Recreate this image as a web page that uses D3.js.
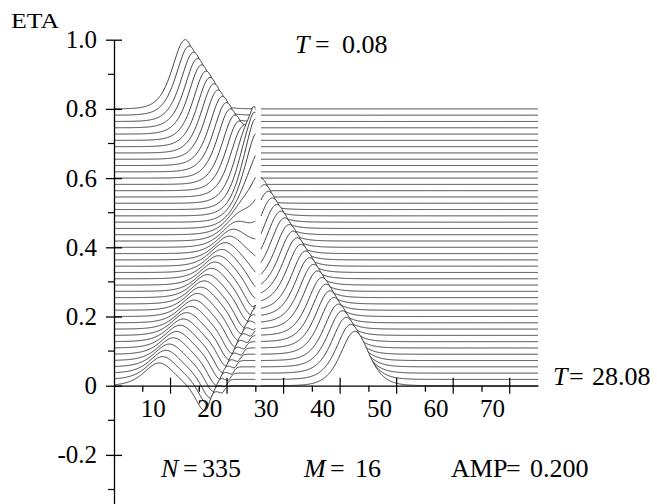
<!DOCTYPE html>
<html lang="en">
<head>
<meta charset="UTF-8">
<title>ETA profiles</title>
<script src="https://d3js.org/d3.v7.min.js"></script>
<style>
  body { margin: 0; background: #fff; }
  svg { display: block; background: #fff; }
</style>
</head>
<body>
<svg width="657" height="504"></svg>
<script>
const serif = '"Liberation Serif", "Times New Roman", "DejaVu Serif", serif';

// first and last time shown, run parameters
const timeLabels = ["0.08", "28.08"];
const runLabels = [["N", "335"], ["M", "16"], ["AMP", "0.200"]];
const yMajor = [-0.2, 0, 0.2, 0.4, 0.6, 0.8, 1.0];
const yMinor = [-0.3, -0.1, 0.1, 0.3, 0.5, 0.7, 0.9];
const xLabelled = [10, 20, 30, 40, 50, 60, 70];
const xHalf = [15, 25, 35, 45, 55, 65, 75];

// 45 profiles, top one is T=0.08, bottom one T=28.08
// incident wave (left of the plate), read off the ridge
const incidentAmp = 0.2;
const incCentre = [17.6,18.3,19.1,19.8,20.5,21.3,22.0,22.7,23.4,24.2,24.9,25.6,26.4,27.1,27.8,
  28.6,29.3,30.0,30.7,31.5,32.2,32.9,33.7,34.4,35.1,35.9,36.6,37.3,38.0,
  null,null,null,null,null,null,null,null,null,null,null,null,null,null,null,null,null];
// short-lived run-up against the plate
const runupAmp = [0,0,0,0,0,0,0,0,0,0,0,0,
  0.04,0.085,0.13,0.085,0.05,0.03,0.01,
  0,0,0,0,0,0,0,0,0,0,0,0,0,0,0,0,0,0,0,0,0,0,0,0,0,0];
// reflected crest running back to the left
const refCentre = [null,null,null,null,null,null,null,null,null,null,null,null,null,null,null,
  30.9,30.3,29.7,29.1,28.5,27.8,27.2,26.6,26.0,25.4,24.7,24.1,23.5,22.9,
  22.3,21.6,21.0,20.4,19.8,19.2,18.6,17.9,17.3,16.7,16.1,15.5,14.8,14.2,13.6,13.0];
const refAmp = [0,0,0,0,0,0,0,0,0,0,0,0,0,0,0,
  0.03,0.04,0.05,0.06,0.065,0.068,0.068,0.068,0.068,0.068,0.068,0.067,
  0.067,0.067,0.067,0.067,0.067,0.067,0.067,0.066,0.066,0.066,0.066,0.066,0.066,0.066,0.066,
  0.066,0.066,0.066];
// depression following the reflected crest
const troughCentre = [null,null,null,null,null,null,null,null,null,null,null,null,null,null,null,
  null,null,null,35.2,34.6,34.1,33.5,33.0,32.5,31.9,31.4,30.8,30.3,29.7,29.2,28.7,28.1,27.6,
  27.0,26.5,25.9,25.4,24.9,24.3,23.8,23.2,22.7,22.1,21.6,21.1];
const troughAmp = [0,0,0,0,0,0,0,0,0,0,0,0,0,0,0,0,0,0,
  0.01,0.02,0.03,0.04,0.05,0.055,0.06,0.065,0.068,0.07,0.071,0.072,0.072,0.073,0.073,
  0.073,0.074,0.074,0.074,0.074,0.075,0.075,0.075,0.075,0.075,0.075,0.075];
// small ripple further behind
const rippleCentre = [null,null,null,null,null,null,null,null,null,null,null,null,null,null,null,
  null,null,null,null,null,null,null,null,null,null,null,null,null,null,null,
  32.0,31.4,30.9,30.3,29.7,29.2,28.6,28.0,27.5,26.9,26.3,25.8,25.2,24.6,24.1];
const rippleAmp = [0,0,0,0,0,0,0,0,0,0,0,0,0,0,0,0,0,0,0,0,0,0,0,0,0,0,0,0,0,0,
  0.01,0.015,0.02,0.02,0.02,0.02,0.02,0.02,0.02,0.02,0.02,0.02,0.02,0.02,0.02];
// transmitted wave (right of the plate)
const trCentre = [null,null,null,null,null,null,null,null,null,null,null,null,null,null,null,
  26.5,27.2,28.0,28.7,29.4,30.1,30.9,31.6,32.3,33.0,33.8,34.5,35.2,36.0,36.7,37.4,38.1,38.9,
  39.6,40.3,41.0,41.8,42.5,43.2,43.9,44.7,45.4,46.1,46.9,47.6];
const trAmp = [0,0,0,0,0,0,0,0,0,0,0,0,0,0,0,
  0.04,0.09,0.13,0.16,0.175,0.18,0.182,0.181,0.18,0.179,0.178,0.177,0.176,0.175,0.174,0.173,
  0.172,0.171,0.17,0.169,0.168,0.167,0.166,0.165,0.164,0.163,0.162,0.161,0.159,0.157];

const nCurves = trAmp.length;
const incWidth = 3.0, runupWidth = 1.0, refWidth = 3.5, trWidth = 3.3;
const troughWL = 2.2, troughWR = 1.1, rippleWL = 1.2, rippleWR = 0.6;
const plateLeft = 30, plateRight = 31;

const svg = d3.select("svg");
const x = d3.scaleLinear().domain([5, 80]).range([114, 538]);
const y = d3.scaleLinear().domain([-0.35, 1.0]).range([506.8, 39.7]);
const base = d3.scaleLinear().domain([0, nCurves - 1]).range([0.8, 0]);

function sech2(u) { const c = Math.cosh(u); return 1 / (c * c); }
function skewed(xv, c, wl, wr) { return sech2((xv - c) / (xv < c ? wl : wr)); }

function leftEta(k, xv) {
  let v = 0;
  if (incCentre[k] != null) v += incidentAmp * sech2((xv - incCentre[k]) / incWidth);
  v += runupAmp[k] * sech2((xv - plateLeft) / runupWidth);
  if (refCentre[k] != null) v += refAmp[k] * sech2((xv - refCentre[k]) / refWidth);
  if (troughCentre[k] != null) v -= troughAmp[k] * skewed(xv, troughCentre[k], troughWL, troughWR);
  if (rippleCentre[k] != null) v -= rippleAmp[k] * skewed(xv, rippleCentre[k], rippleWL, rippleWR);
  return v;
}
function rightEta(k, xv) {
  if (trCentre[k] == null) return 0;
  return trAmp[k] * sech2((xv - trCentre[k]) / trWidth);
}

const leftX = d3.range(5, plateLeft + 0.001, 0.1);
const rightX = d3.range(plateRight, 80.001, 0.1);

const line = d3.line().x(d => x(d[0])).y(d => y(d[1]));
const area = d3.area().x(d => x(d[0])).y0(504).y1(d => y(d[1]));

const curves = svg.append("g");
// back to front, white fill hides what lies behind
for (let k = 0; k < nCurves; k++) {
  const b = base(k);
  [leftX.map(v => [v, b + leftEta(k, v)]), rightX.map(v => [v, b + rightEta(k, v)])]
    .forEach(pts => {
      curves.append("path").datum(pts).attr("d", area).attr("fill", "#fff");
      curves.append("path").datum(pts).attr("d", line)
        .attr("fill", "none").attr("stroke", "#2a2a2a").attr("stroke-width", 0.9);
    });
}

// y axis
const yAxis = svg.append("g").attr("transform", `translate(${x(5)},0)`)
  .call(d3.axisLeft(y).tickValues(yMajor).tickSize(8).tickSizeOuter(0)
    .tickPadding(9).tickFormat(d => d === 0 ? "0" : d.toFixed(1)));
yAxis.selectAll(".tick line").attr("x1", 8);
yAxis.selectAll("text").attr("font-size", 25).style("font-family", serif);
yAxis.selectAll("path, line").attr("stroke", "#000").attr("stroke-width", 1.3);
yAxis.append("g").selectAll("line").data(yMinor).join("line")
  .attr("x1", -6).attr("x2", 0).attr("y1", d => y(d)).attr("y2", d => y(d))
  .attr("stroke", "#000").attr("stroke-width", 1.2);

// x axis on the zero line
const xAxis = svg.append("g").attr("transform", `translate(0,${y(0)})`)
  .call(d3.axisBottom(x).tickValues(xLabelled).tickSize(6).tickSizeOuter(0).tickPadding(8));
xAxis.selectAll("text").attr("font-size", 25).style("font-family", serif)
  .attr("text-anchor", "start").attr("x", -2);
xAxis.selectAll("path, line").attr("stroke", "#000").attr("stroke-width", 1.3);
xAxis.append("g").selectAll("line").data(xHalf).join("line")
  .attr("x1", d => x(d)).attr("x2", d => x(d)).attr("y1", -8).attr("y2", 8)
  .attr("stroke", "#000").attr("stroke-width", 1.2);

// labels
svg.append("text").attr("x", 11).attr("y", 28).attr("font-size", 21)
  .attr("textLength", 48).attr("lengthAdjust", "spacingAndGlyphs")
  .style("font-family", serif).text("ETA");

function mathLabel(xs, yb, name, value, italic) {
  const t = svg.append("text").attr("y", yb).attr("font-size", 26).style("font-family", serif);
  t.append("tspan").attr("x", xs[0]).style("font-style", italic ? "italic" : "normal").text(name);
  t.append("tspan").attr("x", xs[1]).text("=");
  t.append("tspan").attr("x", xs[2]).text(value);
}
mathLabel([295, 315, 342], 53, "T", timeLabels[0], true);
mathLabel([553, 569, 592], 385, "T", timeLabels[1], true);
mathLabel([161, 183, 202], 477, runLabels[0][0], runLabels[0][1], true);
mathLabel([304, 330, 355], 477, runLabels[1][0], runLabels[1][1], true);
mathLabel([451, 506, 530], 477, runLabels[2][0], runLabels[2][1], false);
</script>
</body>
</html>
